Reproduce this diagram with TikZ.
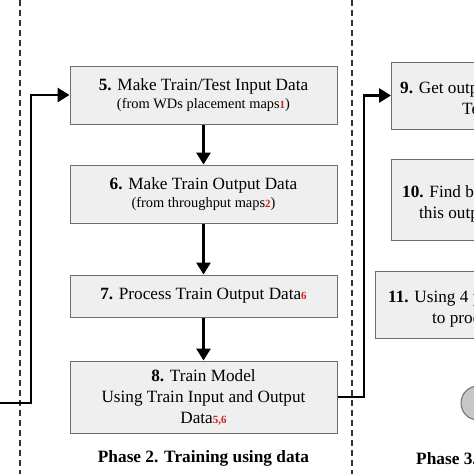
\documentclass[tikz,border=0pt]{standalone}
\usepackage{fontspec}
\setmainfont{Liberation Serif}
\usetikzlibrary{arrows.meta}
\definecolor{boxgray}{HTML}{EFEFEF}
\definecolor{edgegray}{HTML}{6E6E6E}
\definecolor{refred}{HTML}{D01F1F}
\newcommand{\refnum}[1]{{\color{refred}\bfseries\fontsize{11}{13}\selectfont #1}}
\newcommand{\subline}{\fontsize{14.4}{16}\selectfont}
\begin{document}
\begin{tikzpicture}[x=1pt, y=-1pt,
    stepbox/.style={draw=edgegray, line width=1pt, fill=boxgray, inner sep=0pt, align=center,
        font=\fontsize{17.2}{21}\selectfont},
    steptext/.style={font=\fontsize{17.2}{21}\selectfont, anchor=base west, inner sep=0pt},
    flow/.style={line width=2.8pt, -{Triangle[length=12pt,width=14pt]}},
    phase/.style={dash pattern=on 6pt off 4pt, line width=1.1pt, draw=black!80},
    title/.style={font=\fontsize{17.3}{20}\selectfont\bfseries}]
    \useasboundingbox (0,0) rectangle (474,474);
    \clip (0,0) rectangle (474,474);

    % phase borders
    \draw[phase] (20,0) -- (20,474);
    \draw[phase] (352,0) -- (352,474);

    % phase 2
    \node[stepbox, minimum width=267pt, minimum height=58pt] (make_in) at (203.5,95)
        {\textbf{5.} Make Train/Test Input Data\\[-3pt]
         {\subline (from WDs placement maps\refnum{1})}};
    \node[stepbox, minimum width=267pt, minimum height=58pt] (make_out) at (203.5,194)
        {\textbf{6.} Make Train Output Data\\[-3pt]
         {\subline (from throughput maps\refnum{2})}};
    \node[stepbox, minimum width=267pt, minimum height=42pt] (proc_out) at (203.5,296)
        {\textbf{7.} Process Train Output Data\refnum{6}};
    \node[stepbox, minimum width=267pt, minimum height=72pt] (train) at (203.5,397)
        {\textbf{8.} Train Model\\Using Train Input and Output\\Data\refnum{5,6}};
    \node[title] (phase2) at (203.5,458) {Phase 2. Training using data};

    % phase 3
    \node[stepbox, minimum width=267pt, minimum height=67pt, anchor=west] (get_out) at (391,95.5) {};
    \node[steptext] at (400,93) {\textbf{9.} Get output from model};
    \node[steptext] at (462,114) {Test Input Data};
    \node[stepbox, minimum width=267pt, minimum height=81pt, anchor=west] (find_best) at (391,199.5) {};
    \node[steptext] at (402,197) {\textbf{10.} Find best placement};
    \node[steptext] at (419,218) {this output data};
    \node[stepbox, minimum width=267pt, minimum height=67pt, anchor=west] (use_four) at (375,304.5) {};
    \node[steptext] at (388,302) {\textbf{11.} Using 4 placement maps};
    \node[steptext] at (432,323) {to produce data};
    \node[circle, draw=edgegray, line width=1pt, fill=black!22, minimum size=34pt] (done) at (478,403) {};
    \node[title, anchor=base west, inner sep=0pt] (phase3) at (416,464) {Phase 3. Testing};

    % connectors
    \coordinate (from1) at (0,403);
    \draw[flow] (from1) -- (31,403) |- (make_in.west);
    \draw[flow] (make_in) -- (make_out);
    \draw[flow] (make_out) -- (proc_out);
    \draw[flow] (proc_out) -- (train);
    \draw[flow] (train.east) -- (364,397) |- (get_out.west);
\end{tikzpicture}
\end{document}
